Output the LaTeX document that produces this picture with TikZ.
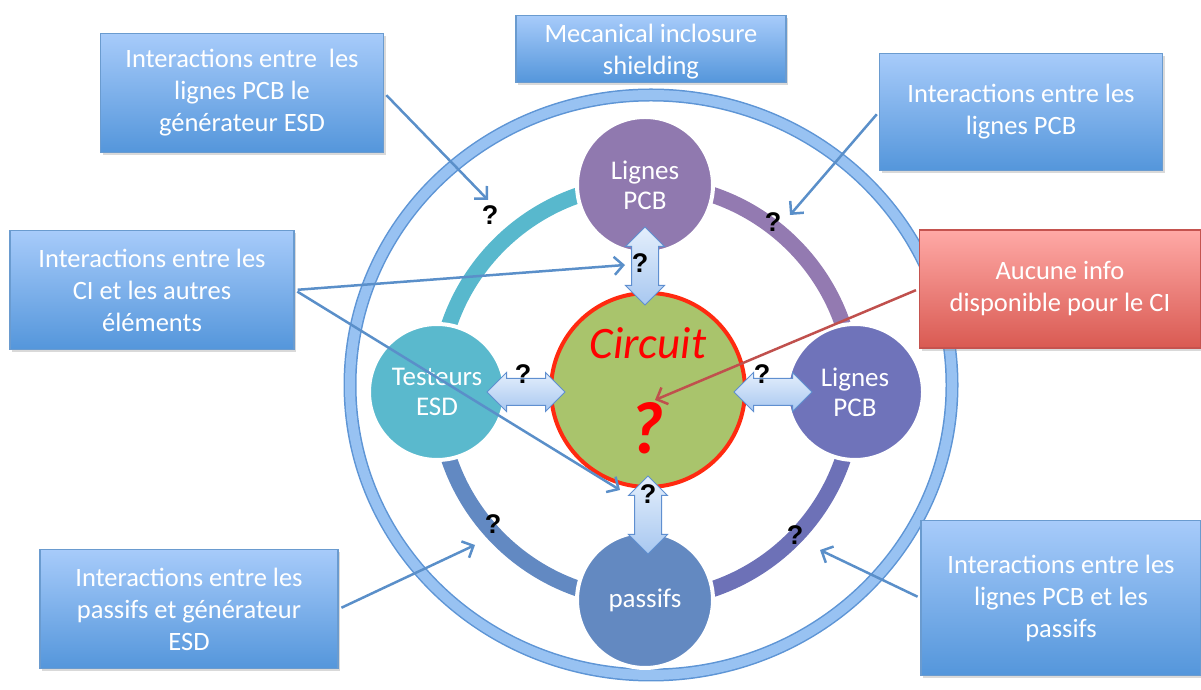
\documentclass[tikz,border=0pt]{standalone}
\usepackage{fontspec}
\setmainfont{Carlito}
\newfontfamily\qmfont{Liberation Sans}
\usetikzlibrary{shapes.arrows,arrows.meta,shadows}

\definecolor{boxtop}{HTML}{A7CBFA}
\definecolor{boxbot}{HTML}{5496DB}
\definecolor{boxline}{HTML}{6A9BCF}
\definecolor{redtop}{HTML}{FFA9A6}
\definecolor{redbot}{HTML}{D95A52}
\definecolor{redline}{HTML}{C5534F}
\definecolor{ringdark}{HTML}{5E95D5}
\definecolor{ringlight}{HTML}{98C2F2}
\definecolor{ringcyan}{HTML}{58B8CD}
\definecolor{ringpurple}{HTML}{937AB1}
\definecolor{ringindigo}{HTML}{6D71B7}
\definecolor{ringblue}{HTML}{6289C2}
\definecolor{pcbtopcol}{HTML}{9079AF}
\definecolor{testcol}{HTML}{5AB9CD}
\definecolor{pcbrightcol}{HTML}{6F73BA}
\definecolor{passcol}{HTML}{6389C1}
\definecolor{circgreen}{HTML}{A9C46C}
\definecolor{circred}{HTML}{FF2A10}
\definecolor{linktop}{HTML}{E4EFFC}
\definecolor{linkbot}{HTML}{A8C8F0}
\definecolor{linkline}{HTML}{5F8FD0}
\definecolor{notecol}{HTML}{5A8FC9}
\definecolor{rednote}{HTML}{C0504D}

\tikzset{
  infobox/.style={draw=boxline, line width=1.5pt, top color=boxtop, bottom color=boxbot,
    text=white, align=center, inner sep=0pt, font=\fontsize{26.5}{32}\selectfont,
    drop shadow={shadow xshift=2pt, shadow yshift=-3pt, opacity=0.3}},
  elem/.style={circle, draw=white, line width=4pt, minimum size=136pt, inner sep=0pt,
    text=white, align=center, font=\fontsize{27}{30}\selectfont},
  link/.style={double arrow, double arrow head extend=6pt, inner sep=13pt,
    minimum height=78pt, draw=linkline, line width=1pt,
    top color=linktop, bottom color=linkbot},
  qm/.style={font=\qmfont\bfseries\fontsize{27}{27}\selectfont},
  note/.style={draw=notecol, line width=2.5pt, shorten <=3pt,
    -{Straight Barb[length=9pt,width=18pt]}}
}

\begin{document}
\begin{tikzpicture}[x=1pt,y=1pt]
\useasboundingbox (0,0) rectangle (1201,690);

% outer ring
\draw[ringdark, line width=13pt] (651,305) ellipse [x radius=301, y radius=290];
\draw[ringlight, line width=10pt] (651,305) ellipse [x radius=301, y radius=290];

% inner ring
\coordinate (hub) at (646,298);
\foreach \s/\c in {180/ringcyan, 90/ringpurple, 0/ringindigo, -90/ringblue}
  \draw[\c, line width=16pt] (hub) ++(\s:208) arc[start angle=\s, delta angle=-90, radius=208];

% elements
\node[elem, fill=pcbtopcol] (pcbtop) at (645,505) {Lignes\\PCB};
\node[elem, fill=testcol] (testeurs) at (437,298) {Testeurs\\ESD};
\node[elem, fill=pcbrightcol] (pcbright) at (855,298) {Lignes\\PCB};
\node[elem, fill=passcol] (passifs) at (645,90) {passifs};

% circuit
\node[circle, draw=circred, line width=4pt, fill=circgreen, minimum size=194pt] (circuit) at (648,300) {};
\node[text=red, font=\itshape\fontsize{45}{45}\selectfont] (circtitle) at (648,347) {Circuit};
\node[text=red, font=\bfseries\itshape\fontsize{74}{74}\selectfont] (circq) at (647,262) {?};

% links
\node[link, rotate=90] (linktop) at (645,424) {};
\node[link] (linkleft) at (526,298) {};
\node[link] (linkright) at (773,298) {};
\node[link, rotate=90] (linkbot) at (648,175) {};

% question marks
\node[qm] (q1) at (490,475) {?};
\node[qm] (q2) at (773,468) {?};
\node[qm] (q3) at (640,427) {?};
\node[qm] (q4) at (523,316) {?};
\node[qm] (q5) at (762,316) {?};
\node[qm] (q6) at (648,196) {?};
\node[qm] (q7) at (493,166) {?};
\node[qm] (q8) at (795,155) {?};

% boxes
\node[infobox, minimum width=270pt, minimum height=67pt] (shield) at (651,641) {};
\node[text=white, align=center, font=\fontsize{26.5}{32}\selectfont] (shieldtxt) at (651,638) {Mecanical inclosure\\shielding};
\node[infobox, minimum width=283pt, minimum height=119pt] (tl) at (242,597) {Interactions entre~ les\\lignes PCB le\\générateur ESD};
\node[infobox, minimum width=283pt, minimum height=117pt] (tr) at (1021,578) {Interactions entre les\\lignes PCB};
\node[infobox, minimum width=284pt, minimum height=119pt] (ml) at (152,400) {Interactions entre les\\CI et les autres\\éléments};
\node[infobox, draw=redline, top color=redtop, bottom color=redbot, minimum width=281pt, minimum height=118pt] (info) at (1060,401) {Aucune info\\disponible pour le CI};
\node[infobox, minimum width=298pt, minimum height=119pt] (bl) at (189,81) {Interactions entre les\\passifs et générateur\\ESD};
\node[infobox, minimum width=280pt, minimum height=155pt] (br) at (1061,92) {Interactions entre les\\lignes PCB et les\\passifs};

% pointers
\coordinate (tlend) at (488,490);
\coordinate (trend) at (790,475);
\coordinate (mlendA) at (625,425);
\coordinate (mlendB) at (620,200);
\coordinate (infoend) at (655,290);
\coordinate (blend) at (475,145);
\coordinate (brend) at (820,140);
\draw[note] (tl.east) -- (tlend);
\draw[note] (tr.west) -- (trend);
\draw[note] (ml.east) -- (mlendA);
\draw[note] (ml.east) -- (mlendB);
\draw[note, draw=rednote] (info.west) -- (infoend);
\draw[note] (bl.east) -- (blend);
\draw[note] (br.west) -- (brend);
\end{tikzpicture}
\end{document}
